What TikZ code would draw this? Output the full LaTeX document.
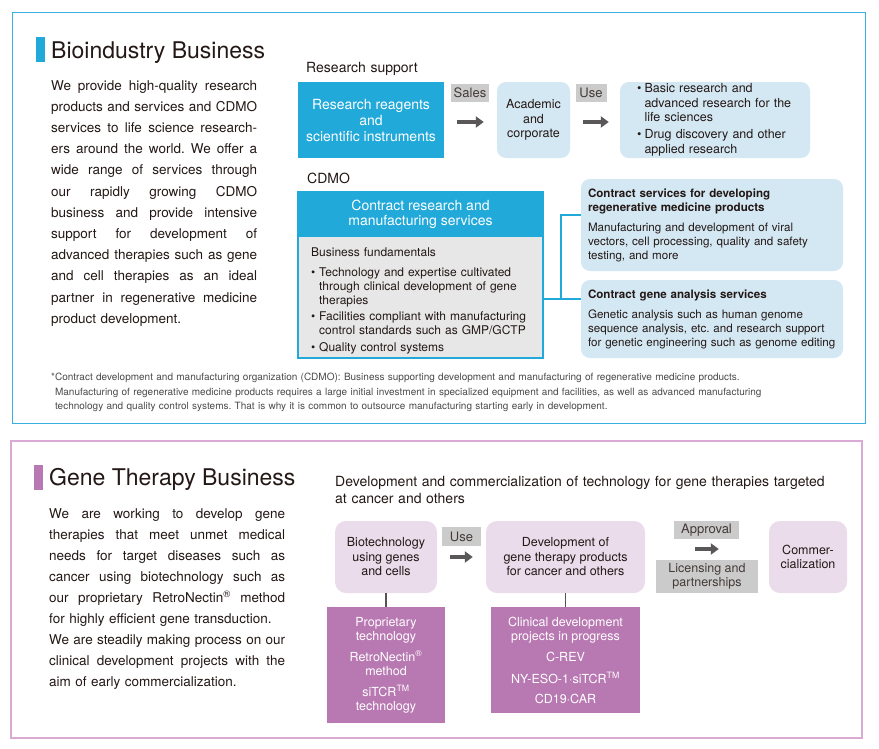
\documentclass[tikz,border=0pt]{standalone}
\usepackage{fontspec}
\setmainfont{TeX Gyre Heros}
\newfontfamily\notefont{TeX Gyre Heros}
\usepackage{xcolor}
\definecolor{bizBlue}{HTML}{20A9D9}
\definecolor{bizBlueLight}{HTML}{D4E8F4}
\definecolor{bizFrame}{HTML}{3AB0E2}
\definecolor{cdmoGray}{HTML}{E7E7E8}
\definecolor{tagGray}{HTML}{CBCBCB}
\definecolor{arrowGray}{HTML}{595757}
\definecolor{genePurple}{HTML}{B878B2}
\definecolor{genePink}{HTML}{EBDCEC}
\definecolor{geneFrame}{HTML}{D8AAD4}
\definecolor{inkDark}{HTML}{231815}
\definecolor{noteGray}{HTML}{4A4A4A}
\usetikzlibrary{arrows.meta,calc,positioning}
\frenchspacing

\newcommand{\fillline}[2][206pt]{\leavevmode\hbox to #1{\spaceskip=0.26em plus 1fil minus 0.05em\relax #2}}
\newcommand{\bul}[1][8pt]{\makebox[#1][l]{\textbullet}}

\begin{document}
\begin{tikzpicture}[x=1pt,y=-1pt,text=inkDark]
  \tikzset{
    bodytext/.style={
      font=\fontsize{13.5}{21.2}\selectfont,
      inner sep=0pt,
      align=left,
      anchor=base west,
    },
    headtext/.style={
      font=\fontsize{23}{26}\selectfont,
      inner sep=0pt,
      anchor=base west,
    },
    labeltext/.style={
      font=\fontsize{14}{17}\selectfont,
      inner sep=0pt,
      align=left,
      anchor=base west,
    },
    bluebox/.style={
      fill=bizBlue,
      text=white,
      inner sep=0pt,
      align=center,
      font=\fontsize{14}{16}\selectfont,
    },
    lightbox/.style={
      fill=bizBlueLight,
      rounded corners=9pt,
      inner sep=0pt,
      font=\fontsize{12.5}{14.5}\selectfont,
    },
    tagbox/.style={
      fill=tagGray,
      inner sep=0pt,
      align=center,
      text=inkDark!85,
      font=\fontsize{13}{14.5}\selectfont,
    },
    pinkbox/.style={
      fill=genePink,
      rounded corners=11pt,
      inner sep=0pt,
      align=center,
      font=\fontsize{12.5}{14.5}\selectfont,
    },
    purplebox/.style={
      fill=genePurple,
      text=white,
      inner sep=0pt,
      align=center,
      font=\fontsize{12.5}{14}\selectfont,
    },
    fatarrow/.style={
      draw=arrowGray,
      line width=4pt,
      -{Triangle[length=8pt,width=11pt]},
    },
    link/.style={draw=bizBlue,line width=1.8pt},
    stem/.style={draw=inkDark!75,line width=1.2pt},
  }

  \fill[white] (0,0) rectangle (879,748);
  \path[use as bounding box] (0,0) rectangle (879,748);

  % Bioindustry panel
  \draw[bizFrame,line width=1.5pt] (12.5,12.5) rectangle (865.5,423.5);
  \fill[bizBlue] (36,37) rectangle (45,62);
  \node[headtext] (bioTitle) at (51,58) {Bioindustry Business};
  \node[bodytext,text width=206pt] (bioText) at (51,90) {%
    \fillline{We provide high-quality research}\\
    \fillline{products and services and CDMO}\\
    \fillline{services to life science research-}\\
    \fillline{ers around the world. We offer a}\\
    \fillline{wide range of services through}\\
    \fillline{our rapidly growing CDMO}\\
    \fillline{business and provide intensive}\\
    \fillline{support for development of}\\
    \fillline{advanced therapies such as gene}\\
    \fillline{and cell therapies as an ideal}\\
    \fillline{partner in regenerative medicine}\\
    product development.};

  \node[labeltext,text width=200pt] (rsLabel) at (306,72) {Research support};
  \node[bluebox,minimum width=146pt,minimum height=76pt] (reagents) at (371,120)
    {Research reagents\\and\\scientific instruments};
  \node[tagbox,minimum width=38pt,minimum height=18pt] (sales) at (470,93) {Sales};
  \node[lightbox,align=center,minimum width=73pt,minimum height=76pt] (academic) at (533.5,120)
    {Academic\\and\\corporate};
  \node[tagbox,minimum width=31pt,minimum height=18pt] (useA) at (591,93) {Use};
  \node[lightbox,align=left,minimum width=190pt,minimum height=76pt,
        text width=156pt,inner xsep=17pt] (uses) at (715,120) {%
    \bul[7.5pt]Basic research and\\
    \hspace*{7.5pt}advanced research for the\\
    \hspace*{7.5pt}life sciences\\[2.5pt]
    \bul[7.5pt]Drug discovery and other\\
    \hspace*{7.5pt}applied research};
  \draw[fatarrow,shorten <=13pt,shorten >=13pt]
    ([yshift=-2pt]reagents.east) -- ([yshift=-2pt]academic.west);
  \draw[fatarrow,shorten <=13pt,shorten >=11pt]
    ([yshift=-2pt]academic.east) -- ([yshift=-2pt]uses.west);

  \node[labeltext,text width=100pt] (cdmoLabel) at (307,183) {CDMO};
  \node[fill=cdmoGray,draw=bizBlue,line width=2pt,minimum width=245pt,minimum height=166pt,
        inner sep=0pt] (cdmo) at (420.5,275) {};
  \node[bluebox,anchor=north,minimum width=245pt,minimum height=46pt,
        font=\fontsize{14}{15.5}\selectfont] (cdmoHead) at (cdmo.north)
    {Contract research and\\manufacturing services};
  \node[bodytext,text width=228pt,font=\fontsize{12}{14}\selectfont] (cdmoText) at (311,256) {%
    Business fundamentals\\[6pt]
    \bul Technology and expertise cultivated\\
    \hspace*{8pt}through clinical development of gene\\
    \hspace*{8pt}therapies\\[2pt]
    \bul Facilities compliant with manufacturing\\
    \hspace*{8pt}control standards such as GMP/GCTP\\[3pt]
    \bul Quality control systems};

  \node[lightbox,align=left,minimum width=262pt,minimum height=92pt,text width=248pt,
        inner xsep=7pt,font=\fontsize{11.6}{14}\selectfont] (rg) at (712,225) {%
    \textbf{Contract services for developing}\\
    \textbf{regenerative medicine products}\\[6pt]
    Manufacturing and development of viral\\
    vectors, cell processing, quality and safety\\
    testing, and more};
  \node[lightbox,align=left,minimum width=262pt,minimum height=78pt,text width=248pt,
        inner xsep=7pt,font=\fontsize{11.6}{14}\selectfont] (ga) at (712,319) {%
    \textbf{Contract gene analysis services}\\[6pt]
    Genetic analysis such as human genome\\
    sequence analysis, etc. and research support\\
    for genetic engineering such as genome editing};

  \coordinate (j) at (561,299);
  \coordinate (k) at (561,215);
  \draw[link] (cdmo.east |- j) -- (j -| ga.west);
  \draw[link] (j) -- (k) -- (k -| rg.west);

  \node[bodytext,text width=780pt,font=\notefont\fontsize{10}{14.5}\selectfont,text=noteGray]
    (note) at (51,380.5) {%
    *Contract development and manufacturing organization (CDMO): Business supporting development and manufacturing of regenerative medicine products.\\
    \hphantom{*}Manufacturing of regenerative medicine products requires a large initial investment in specialized equipment and facilities, as well as advanced manufacturing\\
    \hphantom{*}technology and quality control systems. That is why it is common to outsource manufacturing starting early in development.};

  % Gene therapy panel
  \draw[geneFrame,line width=2pt] (11,441) rectangle (862,738);
  \fill[genePurple] (34,465) rectangle (43,490);
  \node[headtext] (geneTitle) at (49,485) {Gene Therapy Business};
  \node[bodytext,text width=236pt,font=\fontsize{13.5}{21.1}\selectfont] (geneText) at (49,518) {%
    \fillline[236pt]{We are working to develop gene}\\
    \fillline[236pt]{therapies that meet unmet medical}\\
    \fillline[236pt]{needs for target diseases such as}\\
    \fillline[236pt]{cancer using biotechnology such as}\\
    \fillline[236pt]{our proprietary RetroNectin\textsuperscript{®} method}\\
    for highly efficient gene transduction.\\
    \fillline[236pt]{We are steadily making process on our}\\
    \fillline[236pt]{clinical development projects with the}\\
    aim of early commercialization.};

  \node[labeltext,text width=520pt] (devLabel) at (335,486) {%
    Development and commercialization of technology for gene therapies targeted\\
    at cancer and others};

  \node[pinkbox,minimum width=102pt,minimum height=72pt] (bio) at (386,557)
    {Biotechnology\\using genes\\and cells};
  \node[tagbox,minimum width=39pt,minimum height=19pt] (useB) at (461.5,536.5) {Use};
  \node[pinkbox,minimum width=159pt,minimum height=72pt] (dev) at (565.5,557)
    {Development of\\gene therapy products\\for cancer and others};
  \node[tagbox,minimum width=65pt,minimum height=18pt] (approval) at (706.5,530) {Approval};
  \node[tagbox,minimum width=102pt,minimum height=33pt,font=\fontsize{12.5}{14}\selectfont]
    (licensing) at (707,576.5) {Licensing and\\partnerships};
  \node[pinkbox,minimum width=78pt,minimum height=72pt] (commer) at (808,557)
    {Commer-\\cialization};
  \draw[fatarrow,shorten <=13pt,shorten >=13pt] (bio.east) -- (dev.west);
  \draw[fatarrow,shorten <=50pt,shorten >=50pt]
    ([yshift=8pt]dev.east) -- ([yshift=8pt]commer.west);

  \node[purplebox,minimum width=118pt,minimum height=116pt] (tech) at (386,665) {%
    Proprietary\\technology\\[7pt]
    RetroNectin\textsuperscript{®}\\method\\[7pt]
    siTCR\textsuperscript{TM}\\technology};
  \node[purplebox,minimum width=149pt,minimum height=106pt] (clin) at (565.5,660) {%
    Clinical development\\projects in progress\\[7pt]
    C-REV\\[8pt]
    NY-ESO-1·siTCR\textsuperscript{TM}\\[6pt]
    CD19·CAR};
  \draw[stem] (bio.south) -- (tech.north);
  \draw[stem] (dev.south) -- (clin.north);
\end{tikzpicture}
\end{document}
